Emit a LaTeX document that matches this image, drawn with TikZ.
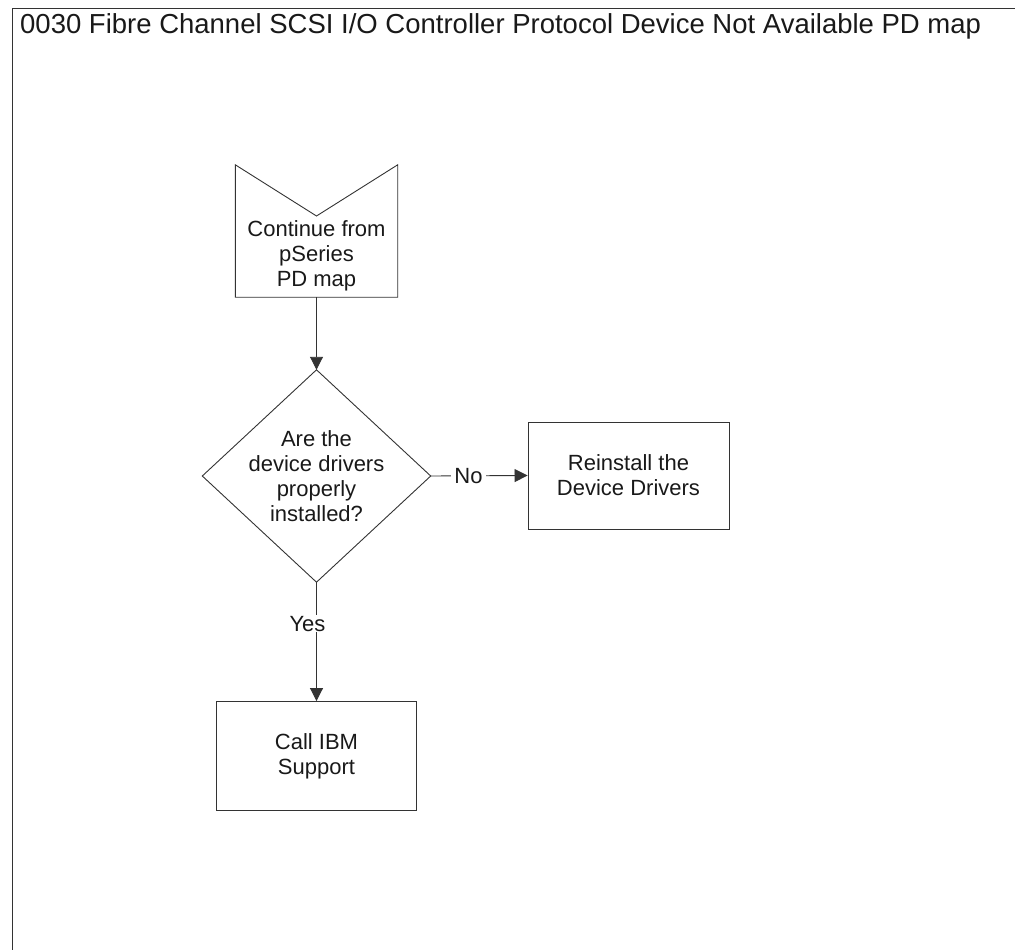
\documentclass[tikz,border=0pt]{standalone}
\usepackage{fontspec}
\setmainfont{Liberation Sans}
\usetikzlibrary{arrows.meta}
\tikzset{
  ln/.style={draw=black!80, line width=0.9pt},
  arr/.style={ln, -{Triangle[length=13pt,width=13pt]}},
  txt/.style={font=\fontsize{22}{24.8}\selectfont, align=center, text=black!90},
  box/.style={ln, rectangle, inner sep=0pt, txt},
  lbl/.style={fill=white, inner sep=3pt, txt}
}
\begin{document}
\begin{tikzpicture}[x=1pt,y=-1pt]
\useasboundingbox (0,0) rectangle (1015,950);
% frame
\coordinate (fl) at (12,950);
\coordinate (ftl) at (12,8);
\coordinate (fr) at (1015,8);
\draw[ln] (fl) -- (ftl) -- (fr);
\node[anchor=base west, inner sep=0pt, font=\fontsize{27.5}{30}\selectfont, text=black!90] (title) at (20,33.5)
  {0030 Fibre Channel SCSI I/O Controller Protocol Device Not Available PD map};
% off-page connector
\node[minimum width=162pt, minimum height=132pt, inner sep=0pt] (cont) at (316.5,231) {};
\coordinate (notch) at (316.5,216);
\draw[ln] (cont.north west) -- (notch) -- (cont.north east) -- (cont.south east) -- (cont.south west) -- cycle;
\node[txt] (conttxt) at (316.5,256) {Continue from\\pSeries\\PD map};
% decision
\node[txt, minimum width=228pt, minimum height=212pt, inner sep=0pt] (dia) at (316.5,476) {Are the\\device drivers\\properly\\installed?};
\draw[ln] (dia.north) -- (dia.east) -- (dia.south) -- (dia.west) -- cycle;
% boxes
\node[box, minimum width=201pt, minimum height=107pt] (reinst) at (628.5,475.5) {Reinstall the\\Device Drivers};
\node[box, minimum width=200.5pt, minimum height=109pt] (call) at (316.5,756) {Call IBM\\Support};
% connectors
\draw[arr] (cont.south) -- (dia.north);
\draw[arr] (dia.east) -- node[lbl, pos=0.39] {No} (reinst.west);
\draw[arr] (dia.south) -- node[lbl, pos=0.35, xshift=-9pt, inner sep=1pt] {Yes} (call.north);
\end{tikzpicture}
\end{document}
